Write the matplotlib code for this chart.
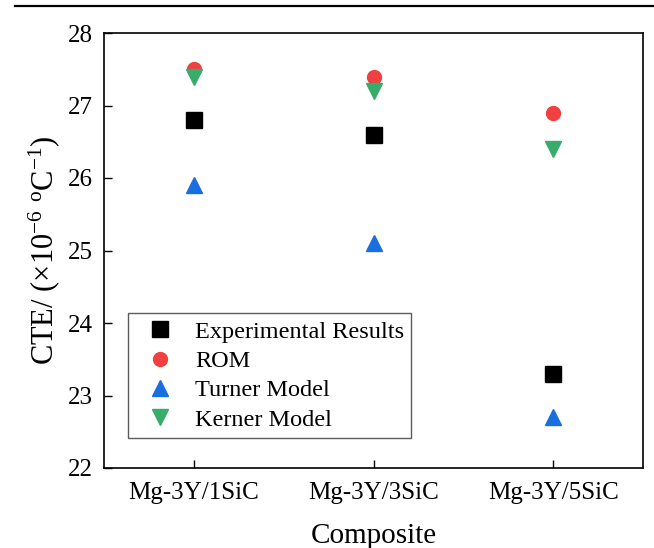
import matplotlib
matplotlib.use("Agg")
import matplotlib.pyplot as plt
from matplotlib.lines import Line2D

plt.rcParams['font.family'] = ['Liberation Serif', 'DejaVu Serif']
plt.rcParams['mathtext.fontset'] = 'custom'
plt.rcParams['mathtext.rm'] = 'Liberation Serif'
plt.rcParams['mathtext.it'] = 'Liberation Serif:italic'

composites = ["Mg-3Y/1SiC", "Mg-3Y/3SiC", "Mg-3Y/5SiC"]
experimental = [26.8, 26.6, 23.3]
rom = [27.5, 27.4, 26.9]
turner = [25.9, 25.1, 22.7]
kerner = [27.4, 27.2, 26.4]
y_ticks = [22, 23, 24, 25, 26, 27, 28]

fig = plt.figure(figsize=(6.54, 5.48), dpi=100)
ax = fig.add_axes([104 / 654, 1 - 468 / 548, (643 - 104) / 654, (468 - 33) / 548])

xpos = [1, 2, 3]
ax.plot(xpos, experimental, linestyle='none', marker='s', markersize=11.5,
        color='black', label='Experimental Results', zorder=3)
ax.plot(xpos, rom, linestyle='none', marker='o', markersize=10,
        color='#F14040', label='ROM', zorder=3)
ax.plot(xpos, turner, linestyle='none', marker='^', markersize=11.5,
        color='#1A6FDF', label='Turner Model', zorder=3)
ax.plot(xpos, kerner, linestyle='none', marker='v', markersize=11.5,
        color='#37AD6B', label='Kerner Model', zorder=4)

ax.set_xlim(0.5, 3.5)
ax.set_ylim(22, 28)
ax.set_xticks(xpos)
ax.set_xticklabels(composites)
ax.set_yticks(y_ticks)
ax.tick_params(axis='both', direction='in', length=6, width=1,
               labelsize=18, top=False, right=False)
ax.tick_params(axis='x', pad=10)
ax.tick_params(axis='y', pad=8)
for sp in ax.spines.values():
    sp.set_linewidth(1.2)

ax.set_xlabel("Composite", fontsize=21, labelpad=14)
ax.set_ylabel(r"CTE/ (×10$^{\mathrm{-6}}$ $^{\mathrm{o}}$C$^{\mathrm{-1}}$)",
              fontsize=22, labelpad=4)

leg = ax.legend(loc='lower left', bbox_to_anchor=(24 / 539, 30 / 435),
                fontsize=17.5, frameon=True, fancybox=False, edgecolor='#333333',
                borderpad=0.3, labelspacing=0.3, handletextpad=0.45,
                handlelength=2.0, borderaxespad=0)
leg.get_frame().set_linewidth(1.0)

fig.add_artist(Line2D([15 / 654, 1.0], [1 - 5.5 / 548, 1 - 5.5 / 548],
                      transform=fig.transFigure, color='black', linewidth=1.6))

fig.savefig("out.png", dpi=100)
